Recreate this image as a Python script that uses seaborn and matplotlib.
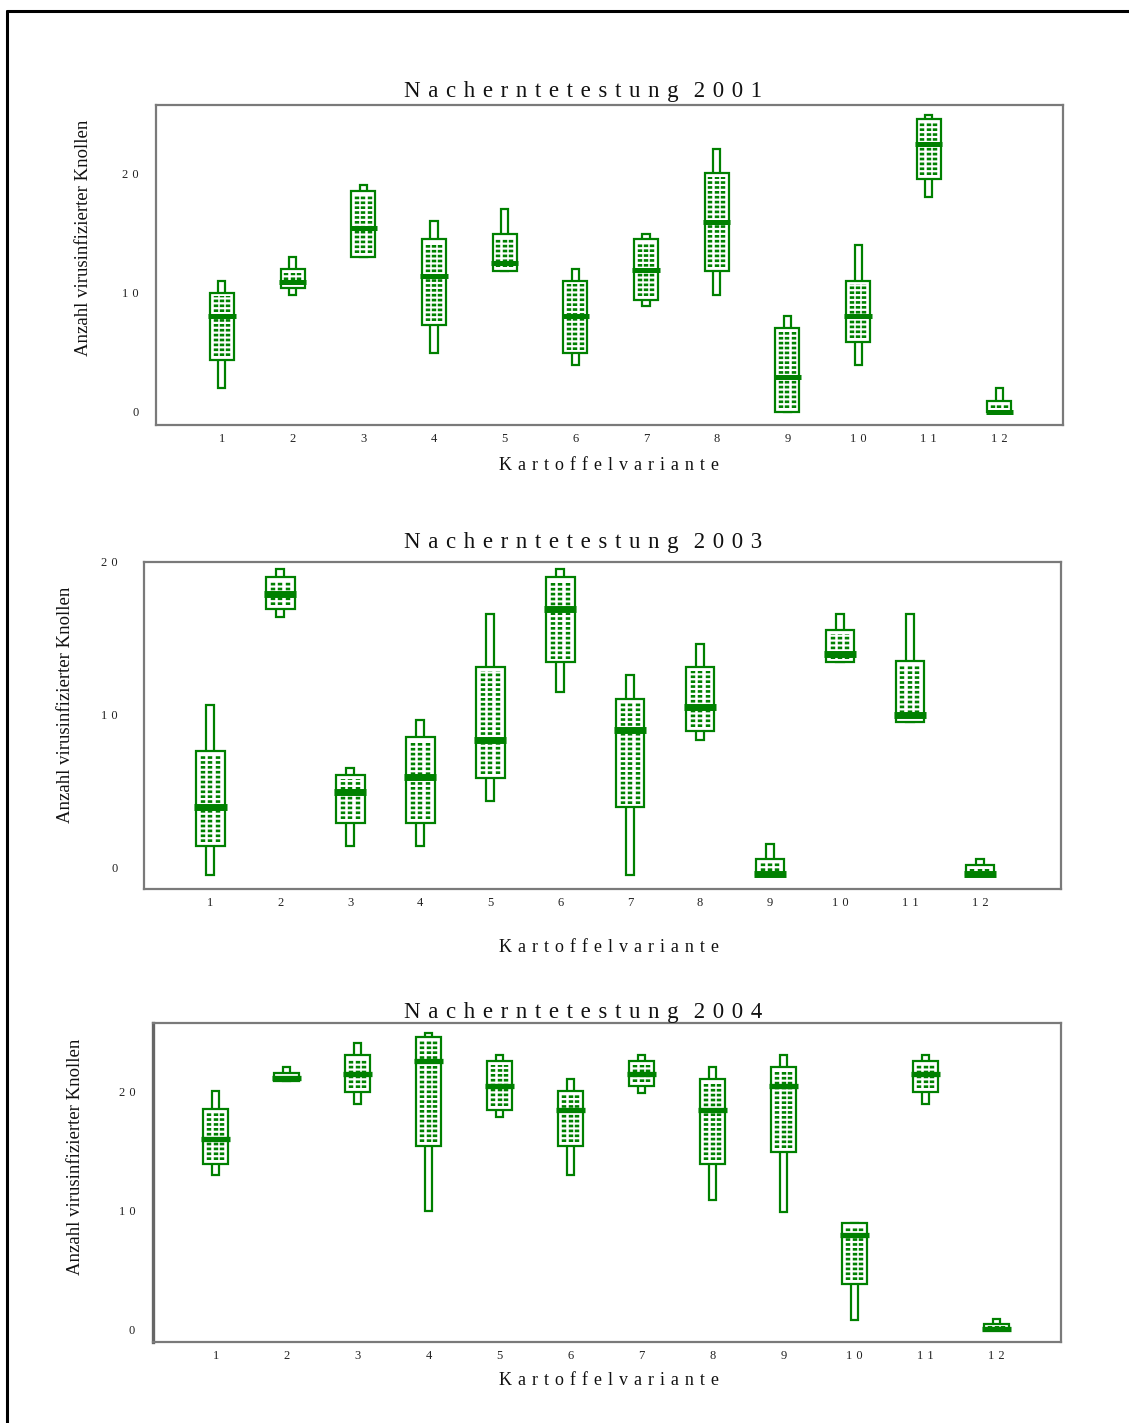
import matplotlib
matplotlib.use("Agg")
import matplotlib.pyplot as plt
from matplotlib.lines import Line2D
import seaborn as sns

SP = "\u2004"  # three-per-em space, gives the spread-out lettering

# Kartoffelvarianten 1..12
varianten = list(range(1, 13))
x_ticklabels = [SP.join(str(v)) for v in varianten]

# 2001: min, Q1, Median, Q3, max
min_2001 = [2, 9.8, 13, 4.9, 11.8, 3.9, 8.9, 9.8, 0, 3.9, 18, 0]
q1_2001 = [4.35, 10.35, 13, 7.3, 11.8, 4.9, 9.35, 11.8, 0, 5.85, 19.5, 0]
med_2001 = [8, 10.9, 15.4, 11.4, 12.5, 8, 11.9, 15.9, 2.9, 8, 22.45, 0]
q3_2001 = [10, 11.95, 18.5, 14.5, 14.9, 11, 14.5, 20, 7, 11, 24.5, 0.95]
max_2001 = [11, 13, 19, 16, 17, 12, 14.9, 22, 8, 14, 24.9, 2]

# 2003
min_2003 = [0, 16.9, 1.9, 1.9, 4.85, 11.95, 0, 8.85, 0, 13.9, 10, 0]
q1_2003 = [1.9, 17.4, 3.4, 3.4, 6.35, 13.9, 4.4, 9.4, 0, 13.9, 10, 0]
med_2003 = [4.45, 18.4, 5.4, 6.4, 8.85, 17.4, 9.45, 11, 0.05, 14.45, 10.45, 0.05]
q3_2003 = [8.1, 19.5, 6.5, 9, 13.6, 19.5, 11.5, 13.6, 1, 16, 14, 0.6]
max_2003 = [11.1, 20, 7, 10.1, 17.1, 20, 13.1, 15.1, 2, 17.1, 17.1, 1]

# 2004
min_2004 = [12.95, 20.85, 18.9, 9.95, 17.85, 12.95, 19.85, 10.9, 9.85, 0.85, 18.9, 0]
q1_2004 = [13.9, 20.85, 19.9, 15.4, 18.4, 15.4, 20.4, 13.9, 14.9, 3.85, 19.9, 0]
med_2004 = [15.95, 21.05, 21.4, 22.5, 20.4, 18.4, 21.4, 18.4, 20.4, 7.9, 21.4, 0.05]
q3_2004 = [18.5, 21.5, 23, 24.5, 22.5, 20, 22.5, 21, 22, 8.95, 22.5, 0.5]
max_2004 = [20, 22, 24.05, 24.9, 23, 21, 23, 22, 23, 8.95, 23, 0.9]

y_ticks = [0, 10, 20]
y_ticklabels = [SP.join(str(v)) for v in y_ticks]

GREEN = "#008000"
SPINE = "#7a7a7a"

sns.set_style("white")
plt.rcParams["font.family"] = ["Liberation Serif", "DejaVu Serif"]

W, H = 1129, 1423
fig = plt.figure(figsize=(W / 100, H / 100), dpi=100)


def px_axes(left, top, right, bottom):
    return fig.add_axes([left / W, 1 - bottom / H, (right - left) / W, (bottom - top) / H])


def draw_panel(ax, mins, q1s, meds, q3s, maxs, box_w, whisk_w, med_lw, ylim, xlim):
    ax.bar(varianten, [b - a for a, b in zip(mins, maxs)], bottom=mins, width=whisk_w,
           facecolor="white", edgecolor=GREEN, linewidth=1.6, zorder=2)
    ax.bar(varianten, [b - a for a, b in zip(q1s, q3s)], bottom=q1s, width=box_w,
           facecolor="white", edgecolor=GREEN, linewidth=1.6, zorder=3)
    # dotted fill of the boxes: three columns of short dashes
    inset = 0.012 * (ylim[1] - ylim[0])
    for off in (-0.26, 0.0, 0.26):
        xs = [v + off * box_w for v in varianten]
        ax.vlines(xs, [q + inset for q in q1s], [q - inset for q in q3s],
                  colors=GREEN, linewidth=3.2, linestyles=(0, (0.6, 0.5)),
                  capstyle="butt", zorder=4)
    mw = box_w + 0.05
    ax.hlines(meds, [v - mw / 2 for v in varianten], [v + mw / 2 for v in varianten],
              colors=GREEN, linewidth=med_lw, zorder=5)

    ax.set_xlim(*xlim)
    ax.set_ylim(*ylim)
    ax.set_xticks(varianten)
    ax.set_xticklabels(x_ticklabels, fontsize=9, color="#222222")
    ax.set_yticks(y_ticks)
    ax.set_yticklabels(y_ticklabels, fontsize=9, color="#222222")
    for s in ax.spines.values():
        s.set_color(SPINE)
        s.set_linewidth(1.6)
        s.set_visible(True)
    ax.tick_params(axis="x", direction="out", length=2.5, width=1.3, color="#555555", pad=3.5)
    ax.grid(False)


ax1 = px_axes(156, 105, 1063, 425)
draw_panel(ax1, min_2001, q1_2001, med_2001, q3_2001, max_2001,
           0.34, 0.10, 3.6, (-1.09, 25.7), (0.067, 12.9))
ax1.tick_params(axis="y", direction="out", length=5.4, width=1.3, color=SPINE, pad=7)

ax2 = px_axes(144, 562, 1061, 889)
draw_panel(ax2, min_2003, q1_2003, med_2003, q3_2003, max_2003,
           0.41, 0.115, 5.0, (-0.94, 20.48), (0.05, 13.16))
ax2.tick_params(axis="y", direction="out", length=8, width=1.3, color=SPINE, pad=11)
for lab in ax2.get_yticklabels():
    lab.set_verticalalignment("bottom")

ax3 = px_axes(153, 1023, 1061, 1342)
draw_panel(ax3, min_2004, q1_2004, med_2004, q3_2004, max_2004,
           0.36, 0.105, 3.8, (-1.03, 25.7), (0.117, 12.906))
ax3.tick_params(axis="y", direction="out", length=5.8, width=1.3, color=SPINE, pad=7)
ax3.spines["left"].set_linewidth(2.4)
ax3.spines["left"].set_color("#666666")

# titles, axis labels (placed in figure pixels)
title_word = SP.join("Nacherntetestung")
xlabel = SP.join("Kartoffelvariante")
ylabel = "Anzahl virusinfizierter Knollen"

for year, t_base, x_base, y_cx, y_cy in [("2001", 97, 470, 83, 238),
                                         ("2003", 548, 952, 66, 705),
                                         ("2004", 1018, 1385, 76, 1157)]:
    fig.text(583 / W, 1 - t_base / H, title_word + SP * 2 + SP.join(year),
             ha="center", va="baseline", fontsize=16.5, color="#111111")
    fig.text(609 / W, 1 - x_base / H, xlabel, ha="center", va="baseline",
             fontsize=13, color="#111111")
    fig.text(y_cx / W, 1 - y_cy / H, ylabel, ha="center", va="center",
             rotation=90, fontsize=13.5, color="#111111")

# page frame (top and left edges)
fig.add_artist(Line2D([7 / W, 1], [1 - 11 / H, 1 - 11 / H], transform=fig.transFigure,
                      color="black", linewidth=2.2))
fig.add_artist(Line2D([7 / W, 7 / W], [0, 1 - 11 / H], transform=fig.transFigure,
                      color="black", linewidth=2.2))

fig.savefig("out.png", dpi=100)
